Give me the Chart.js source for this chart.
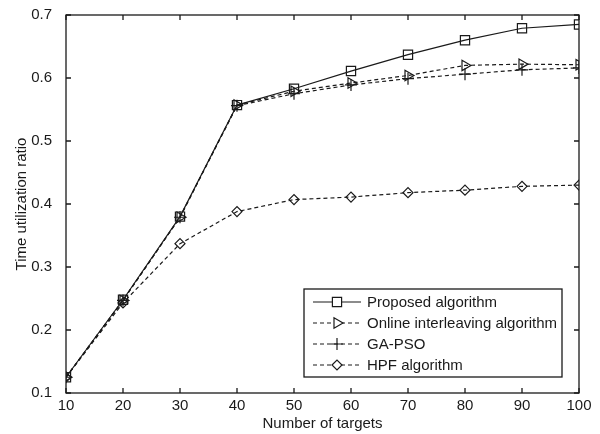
<!DOCTYPE html>
<html>
<head>
<meta charset="utf-8">
<script src="https://cdn.jsdelivr.net/npm/chart.js@4.4.0/dist/chart.umd.min.js"></script>
<style>
  html, body { margin: 0; padding: 0; background: #fff; }
  #wrap { width: 600px; height: 434px; }
</style>
</head>
<body>
<div id="wrap"><canvas id="chart"></canvas></div>
<script>
/* ── Data ── */
const targets = [10, 20, 30, 40, 50, 60, 70, 80, 90, 100];
const proposed = [0.125, 0.248, 0.380, 0.557, 0.583, 0.611, 0.637, 0.660, 0.679, 0.685];
const online   = [0.125, 0.247, 0.379, 0.557, 0.579, 0.592, 0.604, 0.620, 0.622, 0.621];
const gaPso    = [0.125, 0.247, 0.379, 0.556, 0.575, 0.589, 0.599, 0.606, 0.613, 0.616];
const hpf      = [0.125, 0.243, 0.337, 0.388, 0.407, 0.411, 0.418, 0.422, 0.428, 0.430];
const yTicks = [0.1, 0.2, 0.3, 0.4, 0.5, 0.6, 0.7];

const FONT = "Liberation Sans, Arial, sans-serif";
const INK = "#1a1a1a";

/* inward tick marks + full box, MATLAB style */
const boxPlugin = {
  id: "box",
  afterDatasetsDraw(chart) {
    const { ctx, chartArea: a, scales: { x, y } } = chart;
    ctx.save();
    ctx.strokeStyle = INK;
    ctx.lineWidth = 1.3;
    ctx.strokeRect(a.left, a.top, a.right - a.left, a.bottom - a.top);
    ctx.beginPath();
    targets.forEach(t => {
      const px = x.getPixelForValue(t);
      ctx.moveTo(px, a.bottom); ctx.lineTo(px, a.bottom - 5);
      ctx.moveTo(px, a.top); ctx.lineTo(px, a.top + 5);
    });
    yTicks.forEach(v => {
      const py = y.getPixelForValue(v);
      ctx.moveTo(a.left, py); ctx.lineTo(a.left + 5, py);
      ctx.moveTo(a.right, py); ctx.lineTo(a.right - 5, py);
    });
    ctx.stroke();
    ctx.restore();
  },
  afterDraw(chart) {
    /* legend box inside the plot */
    const { ctx } = chart;
    const bx = 304, by = 289, bw = 258, bh = 88;
    ctx.save();
    ctx.fillStyle = "#fff";
    ctx.fillRect(bx, by, bw, bh);
    ctx.strokeStyle = INK;
    ctx.lineWidth = 1.3;
    ctx.strokeRect(bx, by, bw, bh);
    ctx.font = "15px " + FONT;
    ctx.textBaseline = "middle";
    chart.data.datasets.forEach((ds, i) => {
      const cy = by + 13 + i * 21;
      ctx.strokeStyle = INK;
      ctx.lineWidth = 1.2;
      ctx.setLineDash(ds.borderDash || []);
      ctx.beginPath();
      ctx.moveTo(bx + 9, cy); ctx.lineTo(bx + 57, cy);
      ctx.stroke();
      ctx.setLineDash([]);
      ctx.fillStyle = "#fff";
      Chart.helpers.drawPoint(ctx, {
        pointStyle: ds.pointStyle, radius: ds.pointRadius, rotation: ds.pointRotation || 0, borderWidth: 1.2
      }, bx + 33, cy);
      ctx.fillStyle = INK;
      ctx.fillText(ds.label, bx + 63, cy + 1);
    });
    ctx.restore();
  }
};

function series(label, data, style, radius, dashed, rot) {
  return {
    label, data,
    borderColor: INK, backgroundColor: "rgba(0,0,0,0)",
    borderWidth: 1.2, borderDash: dashed ? [4, 3] : [],
    pointStyle: style, pointRotation: rot || 0,
    pointRadius: radius, pointBorderWidth: 1.2, pointBorderColor: INK,
    pointBackgroundColor: "rgba(0,0,0,0)", tension: 0
  };
}

new Chart(document.getElementById("chart"), {
  type: "line",
  data: {
    labels: targets,
    datasets: [
      series("Proposed algorithm", proposed, "rect", 6.5, false),
      series("Online interleaving algorithm", online, "triangle", 6, true, 90),
      series("GA-PSO", gaPso, "cross", 6, true),
      series("HPF algorithm", hpf, "rectRot", 5, true)
    ]
  },
  options: {
    responsive: true,
    maintainAspectRatio: false,
    animation: false,
    layout: { padding: { top: 14, right: 21, left: 13, bottom: 0 } },
    plugins: { legend: { display: false }, tooltip: { enabled: false } },
    scales: {
      x: {
        type: "linear", min: 10, max: 100,
        afterBuildTicks: s => { s.ticks = targets.map(v => ({ value: v })); },
        afterFit: s => { s.height = 41; },
        grid: { display: false },
        border: { display: false },
        ticks: { color: INK, font: { family: FONT, size: 15 }, padding: -4, maxRotation: 0 },
        title: { display: true, text: "Number of targets", color: INK, font: { family: FONT, size: 15 }, padding: { top: 0, bottom: 1 } }
      },
      y: {
        min: 0.1, max: 0.7,
        afterBuildTicks: s => { s.ticks = yTicks.map(v => ({ value: v })); },
        afterFit: s => { s.width = 53; },
        grid: { display: false },
        border: { display: false },
        ticks: { color: INK, font: { family: FONT, size: 15 }, padding: 6, callback: v => v.toFixed(1) },
        title: { display: true, text: "Time utilization ratio", color: INK, font: { family: FONT, size: 15 }, padding: { top: 0, bottom: 4 } }
      }
    }
  },
  plugins: [boxPlugin]
});
</script>
</body>
</html>
